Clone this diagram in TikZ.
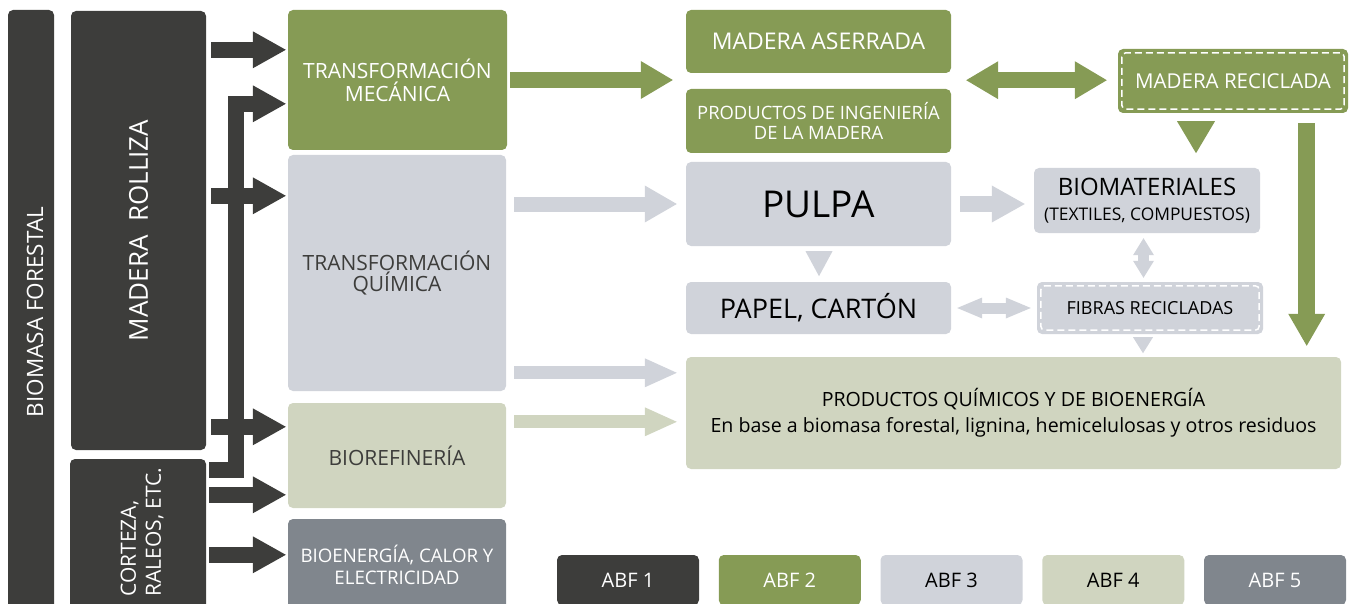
\documentclass[tikz,border=0pt]{standalone}
\usepackage{fontspec}
\setmainfont{Open Sans}
\usetikzlibrary{arrows.meta,calc,positioning}

\definecolor{abfuno}{HTML}{3D3D3B}
\definecolor{abfdos}{HTML}{869B55}
\definecolor{abftres}{HTML}{D0D3DA}
\definecolor{abfcuatro}{HTML}{D0D5C0}
\definecolor{abfcinco}{HTML}{80868D}

\tikzset{
  caja/.style={rectangle, rounded corners=5pt, inner sep=0pt, align=center},
  bloque/.style n args={3}{line width=#1, -{Triangle[width=#2, length=#3, line width=0pt]}},
  doble/.style n args={3}{line width=#1, {Triangle[width=#2, length=#3, line width=0pt]}-{Triangle[width=#2, length=#3, line width=0pt]}},
  recic/.style={draw=white, line width=1.5pt, dash pattern=on 7pt off 4pt, rounded corners=4pt},
}

\begin{document}
\begin{tikzpicture}[x=1pt,y=-1pt]
    \useasboundingbox (0,0) rectangle (1356,604);
    \clip (0,0) rectangle (1356,604);
    %columnas de la izquierda
    \node[caja, fill=abfuno, minimum width=46pt, minimum height=604pt] (biomasa) at (31,312) {};
    \node[text=white, rotate=90, font=\fontsize{22.5}{24}\selectfont] at ([xshift=4pt]biomasa.center) {BIOMASA FORESTAL};
    \node[caja, fill=abfuno, text=white, minimum width=135pt, minimum height=439pt, font=\fontsize{26}{28}\selectfont] (rolliza) at (138.5,230.5) {\rotatebox{90}{MADERA\ \ ROLLIZA}};
    \node[caja, fill=abfuno, minimum width=136pt, minimum height=155pt] (corteza) at (138,536.5) {};
    \node[text=white, rotate=90, align=left, font=\fontsize{21}{25}\selectfont] at ($(corteza.center)+(4,-4.5)$) {CORTEZA,\\RALEOS, ETC.};
    %procesos
    \node[caja, fill=abfdos, text=white, minimum width=219pt, minimum height=140pt, font=\fontsize{21}{23}\selectfont] (tmec) at (397.5,80) {TRANSFORMACIÓN\\MECÁNICA};
    \node[caja, fill=abftres, text=abfuno, minimum width=218pt, minimum height=236pt, font=\fontsize{21}{18}\selectfont] (tquim) at (397,273) {TRANSFORMACIÓN\\QUÍMICA};
    \node[caja, fill=abfcuatro, text=abfuno, minimum width=218pt, minimum height=105pt, font=\fontsize{21}{23}\selectfont] (bioref) at (397,455.5) {BIOREFINERÍA};
    \node[caja, fill=abfcinco, text=white, minimum width=218pt, minimum height=92pt, font=\fontsize{18.7}{22}\selectfont] (bioen) at (397,565) {BIOENERGÍA, CALOR Y\\ELECTRICIDAD};
    %flechas oscuras desde la biomasa
    \coordinate (r1) at ($(rolliza.north east)+(5,39)$);
    \coordinate (r3) at ($(rolliza.north east)+(5,185)$);
    \coordinate (r4) at ($(rolliza.north east)+(5,416)$);
    \coordinate (codo) at ($(rolliza.north east)+(30,93)$);
    \coordinate (c0) at ($(corteza.north east)+(3,11)$);
    \coordinate (c5) at ($(corteza.north east)+(3,36)$);
    \coordinate (c6) at ($(corteza.north east)+(3,96)$);
    \draw[abfuno, bloque={16pt}{37pt}{33pt}] (r1) -- ([xshift=-2pt]r1 -| tmec.west);
    \draw[abfuno, bloque={16pt}{37pt}{33pt}] (r3) -- ([xshift=-2pt]r3 -| tquim.west);
    \draw[abfuno, bloque={16pt}{37pt}{33pt}] (r4) -- ([xshift=-2pt]r4 -| bioref.west);
    \draw[abfuno, bloque={16pt}{37pt}{33pt}] (c0) -| (codo) -- ([xshift=-2pt]codo -| tmec.west);
    \draw[abfuno, bloque={16pt}{37pt}{33pt}] (c5) -- ([xshift=-2pt]c5 -| bioref.west);
    \draw[abfuno, bloque={16pt}{37pt}{33pt}] (c6) -- ([xshift=-2pt]c6 -| bioen.west);
    %productos
    \node[caja, fill=abfdos, text=white, minimum width=265pt, minimum height=63pt, font=\fontsize{23}{25}\selectfont] (aserrada) at (818.5,41.5) {MADERA ASERRADA};
    \node[caja, fill=abfdos, text=white, minimum width=265pt, minimum height=64pt, font=\fontsize{18.4}{20}\selectfont] (ingen) at (818.5,121) {PRODUCTOS DE INGENIERÍA\\DE LA MADERA};
    \node[caja, fill=abftres, text=black, minimum width=265pt, minimum height=84pt, font=\fontsize{37}{39}\selectfont] (pulpa) at (818.5,204) {PULPA};
    \node[caja, fill=abftres, text=black, minimum width=265pt, minimum height=52pt, font=\fontsize{27}{29}\selectfont] (papel) at (818.5,308) {PAPEL, CARTÓN};
    \node[caja, fill=abftres, text=black, minimum width=226pt, minimum height=65pt, font=\fontsize{24}{25}\selectfont] (biomat) at (1147,200.5) {BIOMATERIALES\\{\fontsize{17.4}{18}\selectfont (TEXTILES, COMPUESTOS)}};
    \node[caja, fill=abftres, text=black, minimum width=226pt, minimum height=52pt, font=\fontsize{18}{20}\selectfont] (fibras) at (1150,308) {FIBRAS RECICLADAS};
    \node[caja, fill=abfdos, text=white, minimum width=230pt, minimum height=64pt, font=\fontsize{20.5}{22}\selectfont] (madrec) at (1233,81) {MADERA RECICLADA};
    \node[caja, fill=abfcuatro, text=black, minimum width=655pt, minimum height=112pt, font=\fontsize{19.6}{26}\selectfont] (prodq) at (1013.5,413) {PRODUCTOS QUÍMICOS Y DE BIOENERGÍA\\En base a biomasa forestal, lignina, hemicelulosas y otros residuos};
    %bordes de lo reciclado
    \draw[recic] ([shift={(4,4)}]madrec.north west) rectangle ([shift={(-4,-4)}]madrec.south east);
    \draw[recic] ([shift={(4,4)}]fibras.north west) rectangle ([shift={(-4,-4)}]fibras.south east);
    %flechas entre procesos y productos
    \coordinate (q2) at ($(prodq.north west)+(-9,16)$);
    \coordinate (q3) at ($(prodq.north west)+(-9,65)$);
    \draw[abfdos, bloque={16pt}{38pt}{32pt}] ([xshift=3pt]tmec.east) -- ([xshift=-13pt]tmec.east -| aserrada.west);
    \draw[abftres, bloque={15pt}{37pt}{32pt}] ([xshift=8pt]tquim.east |- pulpa.west) -- ([xshift=-9pt]pulpa.west);
    \draw[abftres, bloque={13pt}{29pt}{32pt}] ([xshift=8pt]q2 -| tquim.east) -- (q2);
    \draw[abfcuatro, bloque={13pt}{29pt}{32pt}] ([xshift=8pt]q3 -| bioref.east) -- (q3);
    \draw[abftres, bloque={16pt}{37pt}{33pt}] ([xshift=9pt]pulpa.east) -- ([xshift=-9pt]biomat.west |- pulpa.east);
    %flechas de reciclaje
    \coordinate (m1) at ($(aserrada.south east)+(15,7)$);
    \coordinate (m2) at ($(madrec.south east)+(-41.5,10)$);
    \draw[abfdos, doble={16pt}{38pt}{32pt}] (m1) -- ([xshift=-11pt]m1 -| madrec.west);
    \fill[abfdos] ($(madrec.south)+(-56,8)$) -- ++(38,0) -- ++(-19,32) -- cycle;
    \draw[abfdos, bloque={17pt}{37pt}{32pt}] (m2) -- ([yshift=11pt]m2 |- prodq.north);
    \fill[abftres] ($(pulpa.south)+(-13,5)$) -- ++(27,0) -- ++(-13.5,25) -- cycle;
    \draw[abftres, doble={11pt}{21pt}{17pt}] ($(biomat.south)+(-3.5,5)$) -- ($(fibras.north)+(-6.5,-4)$);
    \draw[abftres, doble={11pt}{21pt}{25pt}] ([xshift=6pt]papel.east) -- ([xshift=-6pt]fibras.west);
    \fill[abftres] ($(fibras.south)+(-17,3)$) -- ++(20,0) -- ++(-10,16) -- cycle;
    %leyenda
    \foreach \col/\txt/\tc [count=\i] in {abfuno/ABF 1/white, abfdos/ABF 2/white, abftres/ABF 3/black, abfcuatro/ABF 4/black, abfcinco/ABF 5/white}
        \node[caja, fill=\col, text=\tc, minimum width=142pt, minimum height=50pt, font=\fontsize{20}{22}\selectfont] (abf\i) at (628+161.75*\i-161.75,580) {\txt};
\end{tikzpicture}
\end{document}
